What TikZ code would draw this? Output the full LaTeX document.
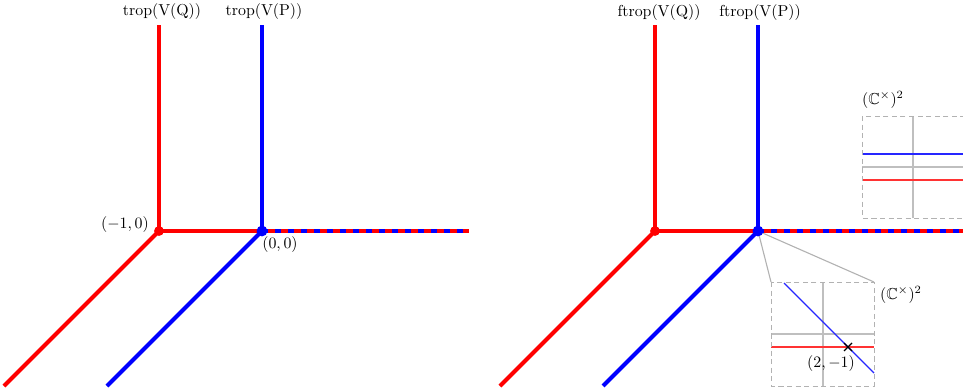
\documentclass[tikz,border=0pt]{standalone}
\usepackage{amssymb}
\usetikzlibrary{calc}
\begin{document}
\begin{tikzpicture}[x=0.63pt,y=-0.63pt,
  trop/.style={line width=2.5pt},
  mixdash/.style={line width=2.5pt,blue,dash pattern=on 3.8pt off 4.4pt},
  lbl/.style={inner sep=0pt,font=\normalsize},
  boxline/.style={gray!60,line width=0.6pt,dash pattern=on 3.2pt off 2.2pt},
  axis/.style={gray!50,line width=0.7pt},
  link/.style={gray!60,line width=0.7pt},
  thinred/.style={red!80,line width=0.8pt},
  thinblue/.style={blue!85,line width=0.8pt}]
\useasboundingbox (0,0) rectangle (963,392);

% ---------- left diagram ----------
\coordinate (Q0) at (159,231);
\coordinate (P0) at (262,231);
\coordinate (Qtop) at (159,25);
\coordinate (Ptop) at (262,25);
\coordinate (Qend) at (4,386);
\coordinate (Pend) at (107,386);
\coordinate (Hend) at (469,231);

\draw[trop,red] (Qtop) -- (Q0) -- (Qend);
\draw[trop,red] (Q0) -- (Hend);
\draw[mixdash] (P0) -- (Hend);
\draw[trop,blue] (Ptop) -- (P0) -- (Pend);
\fill[red] (Q0) circle (3.1pt);
\fill[blue] (P0) circle (3.4pt);

\node[lbl] (tQ) at (162,12) {trop(V(Q))};
\node[lbl] (tP) at (264,12) {trop(V(P))};
\node[lbl] (lQ) at (125,225) {$(-1,0)$};
\node[lbl] (lP) at (280,245) {$(0,0)$};

% ---------- right diagram ----------
\coordinate (Q1) at (655,231);
\coordinate (P1) at (758,231);
\coordinate (Q1top) at (655,25);
\coordinate (P1top) at (758,25);
\coordinate (Q1end) at (500,386);
\coordinate (P1end) at (603,386);
\coordinate (H1end) at (966,231);

% lower inset box corners
\coordinate (Ltl) at (771,282);
\coordinate (Ltr) at (874,282);
\coordinate (Lbr) at (874,386);
\coordinate (Lbl) at (771,386);

\draw[link] (P1) -- (Ltl);
\draw[link] (P1) -- (Ltr);

\draw[trop,red] (Q1top) -- (Q1) -- (Q1end);
\draw[trop,red] (Q1) -- (H1end);
\draw[mixdash] (P1) -- (H1end);
\draw[trop,blue] (P1top) -- (P1) -- (P1end);
\fill[red] (Q1) circle (3.1pt);
\fill[blue] (P1) circle (3.4pt);

\node[lbl] (fQ) at (659,13) {ftrop(V(Q))};
\node[lbl] (fP) at (760,13) {ftrop(V(P))};

% upper inset
\draw[axis] (913,116) -- (913,218);
\draw[axis] (862,167) -- (966,167);
\draw[thinblue] (862,154) -- (966,154);
\draw[thinred] (862,180) -- (966,180);
\draw[boxline] (862,116) rectangle (966,218);
\node[lbl] (U) at (883,100) {$(\mathbb{C}^\times)^2$};

% lower inset
\draw[axis] (823,282) -- (823,386);
\draw[axis] (771,334) -- (874,334);
\draw[thinred] (771,347) -- (874,347);
\draw[thinblue] (784,283) -- (874,373);
\draw[boxline] (Ltl) rectangle (Lbr);
\coordinate (X) at (848,347);
\draw[black,line width=0.8pt] ($(X)+(-4,-4)$) -- ($(X)+(4,4)$);
\draw[black,line width=0.8pt] ($(X)+(-4,4)$) -- ($(X)+(4,-4)$);
\node[lbl] (xl) at (831,364) {$(2,-1)$};
\node[lbl] (L) at (901,295) {$(\mathbb{C}^\times)^2$};
\end{tikzpicture}
\end{document}
